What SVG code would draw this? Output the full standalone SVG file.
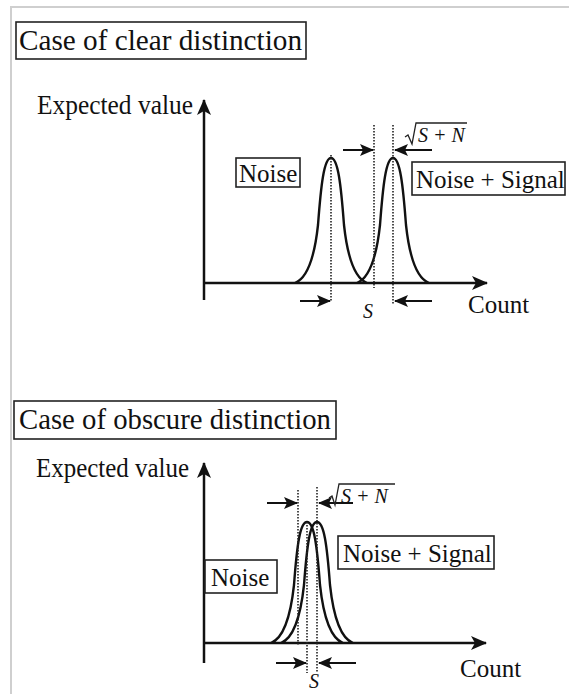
<svg xmlns="http://www.w3.org/2000/svg" width="569" height="694" viewBox="0 0 569 694">
<style>
  text { font-family: "Liberation Serif", "Times New Roman", serif; fill: #111; }
  .title { font-size: 29px; }
  .lbl { font-size: 25px; }
  .ylbl { font-size: 27px; }
  .math { font-size: 20px; font-style: italic; }
  .box { fill: #fff; stroke: #222; stroke-width: 1.6; }
  .axis { stroke: #111; stroke-width: 2.5; fill: none; }
  .curve { stroke: #111; stroke-width: 2.4; fill: none; }
  .dot { stroke: #222; stroke-width: 1.6; stroke-dasharray: 1.5 1.5; fill: none; }
  .arr { stroke: #111; stroke-width: 2; fill: none; }
  .rad { stroke: #222; stroke-width: 1.3; fill: none; }
  .frame { stroke: #cfcfcf; stroke-width: 2; fill: none; }
</style>
<defs>
  <marker id="axhead" viewBox="0 0 16 14" refX="15" refY="7" markerWidth="16" markerHeight="14" markerUnits="userSpaceOnUse" orient="auto">
    <path d="M0,0 L16,7 L0,14 L4,7 Z" fill="#111"/>
  </marker>
  <marker id="head" viewBox="0 0 14 12" refX="13" refY="6" markerWidth="14" markerHeight="12" markerUnits="userSpaceOnUse" orient="auto">
    <path d="M0,0 L14,6 L0,12 L3,6 Z" fill="#111"/>
  </marker>
</defs>
<rect width="569" height="694" fill="#fff"/>
<path class="frame" d="M11,694 L11,7 L569,7"/>

<!-- Panel 1 -->
<g id="title1">
  <rect class="box" x="16" y="22" width="290" height="37"/>
  <text class="title" x="19" y="50" textLength="283" lengthAdjust="spacingAndGlyphs">Case of clear distinction</text>
</g>
<g id="axes1">
  <line class="axis" x1="204" y1="300" x2="204" y2="100" marker-end="url(#axhead)"/>
  <line class="axis" x1="204" y1="283" x2="487" y2="283" marker-end="url(#axhead)"/>
  <text class="ylbl" x="37" y="114" textLength="156" lengthAdjust="spacingAndGlyphs">Expected value</text>
  <text class="lbl" x="468" y="313">Count</text>
</g>
<g id="noise-curve1">
  <path class="curve" d="M295,283 C305,279 314,262 318,225 C321,185 324,158 331,158 C338,158 341,185 344,225 C348,262 357,279 367,283"/>
</g>
<g id="signal-curve1">
  <path class="curve" d="M357,283 C367,279 376,262 380,225 C383,185 386,158 393,158 C400,158 403,185 406,225 C410,262 419,279 429,283"/>
</g>
<g id="noise-label1">
  <rect class="box" x="236" y="158" width="64" height="29"/>
  <text class="lbl" x="239" y="182">Noise</text>
</g>
<g id="signal-label1">
  <rect class="box" x="412" y="162" width="153" height="33"/>
  <text class="lbl" x="416" y="188">Noise + Signal</text>
</g>
<g id="measures1">
  <line class="dot" x1="331" y1="155" x2="331" y2="301"/>
  <line class="dot" x1="374" y1="125" x2="374" y2="288"/>
  <line class="dot" x1="393" y1="125" x2="393" y2="305"/>
  <line class="arr" x1="343" y1="150" x2="373" y2="150" marker-end="url(#head)"/>
  <line class="arr" x1="432" y1="150" x2="395" y2="150" marker-end="url(#head)"/>
  <line class="arr" x1="300" y1="301" x2="330" y2="301" marker-end="url(#head)"/>
  <line class="arr" x1="432" y1="301" x2="395" y2="301" marker-end="url(#head)"/>
  <path class="rad" d="M405,137 L408,135 L412,144 L416,123 L467,123"/>
  <text class="math" x="418" y="142">S + N</text>
  <text class="math" x="363" y="318">S</text>
</g>

<!-- Panel 2 -->
<g id="title2">
  <rect class="box" x="14" y="401" width="322" height="38"/>
  <text class="title" x="19" y="429" textLength="312" lengthAdjust="spacingAndGlyphs">Case of obscure distinction</text>
</g>
<g id="axes2">
  <line class="axis" x1="204" y1="663" x2="204" y2="463" marker-end="url(#axhead)"/>
  <line class="axis" x1="204" y1="643" x2="486" y2="643" marker-end="url(#axhead)"/>
  <text class="ylbl" x="36" y="477" textLength="153" lengthAdjust="spacingAndGlyphs">Expected value</text>
  <text class="lbl" x="460" y="677">Count</text>
</g>
<g id="noise-curve2">
  <path class="curve" d="M271,643 C281,639 290,622 294,585 C297,545 300,522 307,522 C314,522 317,545 320,585 C324,622 333,639 343,643"/>
</g>
<g id="signal-curve2">
  <path class="curve" d="M281,643 C291,639 300,622 304,585 C307,545 310,522 317,522 C324,522 327,545 330,585 C334,622 343,639 353,643"/>
</g>
<g id="noise-label2">
  <rect class="box" x="205" y="560" width="72" height="33"/>
  <text class="lbl" x="211" y="586">Noise</text>
</g>
<g id="signal-label2">
  <rect class="box" x="338" y="536" width="156" height="33"/>
  <text class="lbl" x="343" y="562">Noise + Signal</text>
</g>
<g id="measures2">
  <line class="dot" x1="298" y1="490" x2="298" y2="645"/>
  <line class="dot" x1="307" y1="522" x2="307" y2="673"/>
  <line class="dot" x1="317" y1="487" x2="317" y2="673"/>
  <line class="arr" x1="267" y1="503" x2="297" y2="503" marker-end="url(#head)"/>
  <line class="arr" x1="353" y1="503" x2="319" y2="503" marker-end="url(#head)"/>
  <line class="arr" x1="276" y1="663" x2="306" y2="663" marker-end="url(#head)"/>
  <line class="arr" x1="356" y1="663" x2="319" y2="663" marker-end="url(#head)"/>
  <path class="rad" d="M329,498 L332,496 L335,505 L339,484 L395,484"/>
  <text class="math" x="341" y="503">S + N</text>
  <text class="math" x="309" y="688">S</text>
</g>
</svg>
